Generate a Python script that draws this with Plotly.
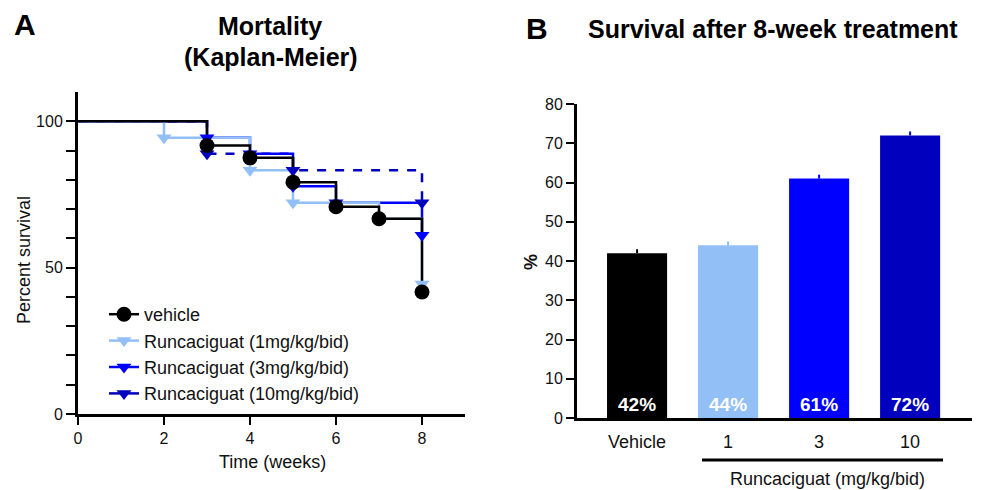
import plotly.graph_objects as go

# ---------------- Data ----------------
# Panel A: Kaplan-Meier survival (%), time in weeks
weeks_vehicle = [0, 3, 4, 5, 6, 7, 8]
surv_vehicle = [100, 91.7, 87.5, 79.2, 70.8, 66.7, 41.7]
weeks_1mg = [0, 2, 4, 5, 7, 8]
surv_1mg = [100, 94.4, 83.3, 72.2, 66.7, 44.4]
weeks_3mg = [0, 3, 4, 5, 6, 8]
surv_3mg = [100, 94.4, 88.9, 77.8, 72.2, 61.1]
weeks_10mg = [0, 3, 5, 8]
surv_10mg = [100, 88.9, 83.3, 72.2]

series_names = ["vehicle", "Runcaciguat (1mg/kg/bid)",
                "Runcaciguat (3mg/kg/bid)", "Runcaciguat (10mg/kg/bid)"]

# Panel B: survival after 8 weeks
bar_labels = ["Vehicle", "1", "3", "10"]
bar_values = [42, 44, 61, 72]
bar_errors = [1, 1, 1, 1]

# ---------------- Styles ----------------
FONT = "Liberation Sans, Arial, Helvetica, sans-serif"
colors = ["#000000", "#92BFF6", "#0000FF", "#0000BE"]
symbols = ["circle", "triangle-down", "triangle-down", "triangle-down"]
msizes = [15, 13, 13, 13]
dashes = ["solid", "solid", "solid", "dash"]
W, H = 986, 490
OFF = 8  # default page body margin

def px(x):
    return (x - OFF) / W

def py(y):
    return 1 - (y - OFF) / H

fig = go.Figure()

series = [(weeks_vehicle, surv_vehicle), (weeks_1mg, surv_1mg),
          (weeks_3mg, surv_3mg), (weeks_10mg, surv_10mg)]

# legend entries (in legend order)
for i, name in enumerate(series_names):
    fig.add_trace(go.Scatter(
        x=[None], y=[None], mode="lines+markers", name=name,
        line=dict(color=colors[i], width=2.5),
        marker=dict(symbol=symbols[i], size=msizes[i], color=colors[i]),
        xaxis="x", yaxis="y", showlegend=True))

# drawn curves: 10mg first, vehicle last (on top)
for i in [3, 2, 1, 0]:
    t, s = series[i]
    fig.add_trace(go.Scatter(
        x=t, y=s, mode="lines", line_shape="hv",
        line=dict(color=colors[i], width=2.5, dash=dashes[i]),
        xaxis="x", yaxis="y", showlegend=False, hoverinfo="skip"))
for i in [3, 2, 1, 0]:
    t, s = series[i]
    fig.add_trace(go.Scatter(
        x=t[1:], y=s[1:], mode="markers",
        marker=dict(symbol=symbols[i], size=msizes[i], color=colors[i]),
        xaxis="x", yaxis="y", showlegend=False))

# bars (one trace per bar so each error bar takes its bar's colour)
for i, (lab, v, e) in enumerate(zip(bar_labels, bar_values, bar_errors)):
    fig.add_trace(go.Bar(
        x=[i], y=[v], width=0.66,
        marker=dict(color=colors[i], line=dict(width=0)),
        error_y=dict(type="data", array=[e], symmetric=False, arrayminus=[0],
                     color=colors[i], thickness=2, width=0),
        text=[f"{v}%"], textposition="inside",
        insidetextanchor="start", textangle=0,
        textfont=dict(family=FONT, size=19, color="white", weight="bold"),
        xaxis="x2", yaxis="y2", showlegend=False))

axis_common = dict(showline=True, linewidth=3, linecolor="black", showgrid=False,
                   zeroline=False, ticks="outside", tickwidth=2, tickcolor="black",
                   automargin=False)

fig.update_layout(
    template="none", barmode="overlay",
    width=W, height=H, margin=dict(l=0, r=0, t=0, b=0, pad=0, autoexpand=False),
    paper_bgcolor="white", plot_bgcolor="white",
    font=dict(family=FONT, color="#111111"),
    xaxis=dict(domain=[px(78), px(465)], range=[0, 9], tickvals=[0, 2, 4, 6, 8],
               ticklen=8, tickfont=dict(size=16), anchor="y", **axis_common),
    yaxis=dict(domain=[py(414), py(92)], range=[0, 110], tickvals=[0, 50, 100],
               ticklen=9, tickfont=dict(size=16), anchor="x",
               minor=dict(tickvals=[10, 20, 30, 40, 60, 70, 80, 90], ticks="outside",
                          ticklen=9, tickwidth=2, tickcolor="black", showgrid=False),
               **axis_common),
    xaxis2=dict(domain=[px(577), px(972)], range=[-0.66, 3.68],
                tickvals=list(range(len(bar_labels))), ticktext=bar_labels,
                tickfont=dict(size=18), anchor="y2", automargin=False,
                showline=True, linewidth=3, linecolor="black", showgrid=False,
                zeroline=False, ticks="outside", ticklen=5, tickcolor="rgba(0,0,0,0)"),
    yaxis2=dict(domain=[py(418), py(104)], range=[0, 80], dtick=10, tick0=0,
                ticklen=8, tickfont=dict(size=16), anchor="x2", **axis_common),
    legend=dict(x=px(104), y=py(296), xanchor="left", yanchor="top",
                font=dict(size=18, family=FONT), bgcolor="rgba(0,0,0,0)",
                borderwidth=0, traceorder="normal", itemwidth=30),
)

ann = [
    dict(text="<b>A</b>", x=px(25), y=py(25), font=dict(size=30, color="black")),
    dict(text="<b>Mortality</b>", x=px(270), y=py(26), font=dict(size=25, color="black")),
    dict(text="<b>(Kaplan-Meier)</b>", x=px(271), y=py(57), font=dict(size=25, color="black")),
    dict(text="<b>B</b>", x=px(537), y=py(28), font=dict(size=30, color="black")),
    dict(text="<b>Survival after 8-week treatment</b>", x=px(773), y=py(29),
         font=dict(size=25, color="black")),
    dict(text="Percent survival", x=px(24), y=py(260), textangle=-90,
         font=dict(size=18)),
    dict(text="Time (weeks)", x=px(272), y=py(462), font=dict(size=18)),
    dict(text="<b>%</b>", x=px(531), y=py(262), textangle=-90, font=dict(size=18)),
    dict(text="Runcaciguat (mg/kg/bid)", x=px(827), y=py(479), font=dict(size=18)),
]
for a in ann:
    a.update(xref="paper", yref="paper", xanchor="center", yanchor="middle",
             showarrow=False)
    a["font"].setdefault("family", FONT)
fig.update_layout(annotations=ann)

fig.add_shape(type="line", xref="paper", yref="paper",
              x0=px(702), x1=px(943), y0=py(460), y1=py(460),
              line=dict(color="black", width=3))

fig.write_html("out.html")
